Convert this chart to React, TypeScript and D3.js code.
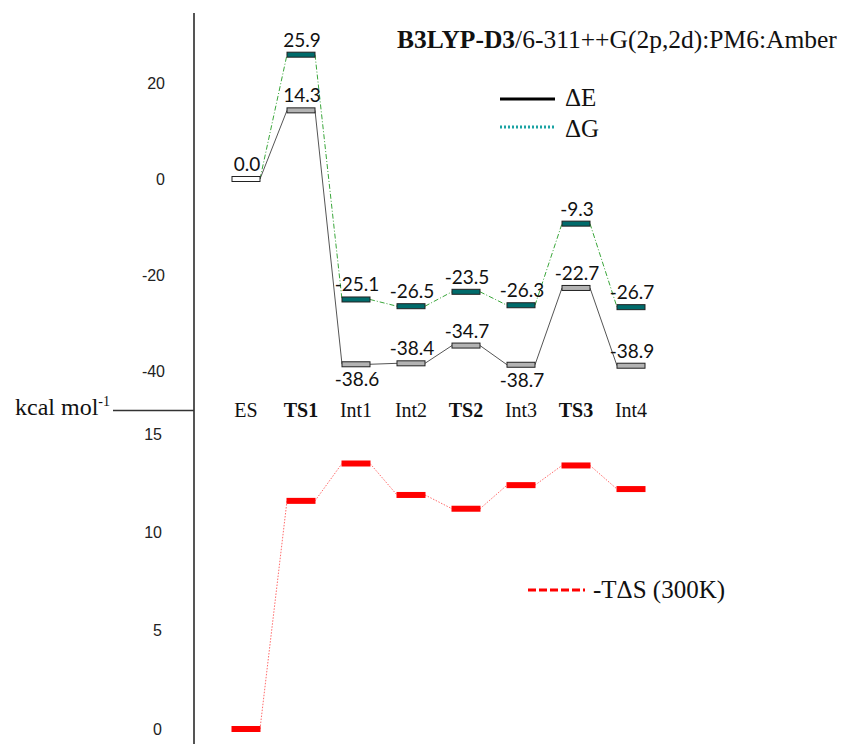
import * as d3 from "d3";

const stages = ["ES", "TS1", "Int1", "Int2", "TS2", "Int3", "TS3", "Int4"];
const boldStages = ["TS1", "TS2", "TS3"];
const deltaE = [0.0, 14.3, -38.6, -38.4, -34.7, -38.7, -22.7, -38.9];
const deltaG = [0.0, 25.9, -25.1, -26.5, -23.5, -26.3, -9.3, -26.7];
const minusTdS = [0.0, 11.6, 13.5, 11.9, 11.2, 12.4, 13.4, 12.2];
const eLabelBelow = ["Int1", "Int3"];
const topTicks = [20, 0, -20, -40];
const bottomTicks = [15, 10, 5, 0];

const W = 848;
const H = 744;
const axisX = 194;
const barW = 28;
const serif = "'Liberation Serif', 'Times New Roman', serif";
const sans = "Lato, 'Noto Sans', sans-serif";

const x = d3.scalePoint<string>().domain(stages).range([246, 631]);
const yTop = d3.scaleLinear().domain([-40, 20]).range([371, 83]);
const yBot = d3.scaleLinear().domain([0, 15]).range([729, 434]);

// connector from the right end of one level to the left end of the next
const connector = (vals: number[], y: d3.ScaleLinear<number, number>) => {
  const pts: [number, number][] = [];
  vals.forEach((v, i) => {
    const cx = x(stages[i])!;
    pts.push([cx - barW / 2, y(v)]);
    pts.push([cx + barW / 2, y(v)]);
  });
  const segs: string[] = [];
  for (let i = 1; i < pts.length - 1; i += 2) {
    segs.push(d3.line()([pts[i], pts[i + 1]])!);
  }
  return segs.join("");
};

const App = () => {
  return (
    <svg width={W} height={H} style={{ display: "block", position: "absolute", left: 0, top: 0 }}>
      <rect width={W} height={H} fill="#fff" />

      {/* axis */}
      <line x1={axisX} x2={axisX} y1={13} y2={H} stroke="#555" strokeWidth={2} />
      <line x1={113} x2={axisX} y1={410.5} y2={410.5} stroke="#333" strokeWidth={1.3} />
      <text x={15} y={415} fontFamily={serif} fontSize={24} fill="#111">
        kcal mol
        <tspan dy={-9} fontSize={14}>-1</tspan>
      </text>

      {topTicks.map((t) => (
        <text key={"t" + t} x={165} y={yTop(t)} dy="0.36em" textAnchor="end"
          fontFamily="'Liberation Sans', Arial, sans-serif" fontSize={16} fill="#222">
          {t}
        </text>
      ))}
      {bottomTicks.map((t) => (
        <text key={"b" + t} x={162} y={yBot(t)} dy="0.36em" textAnchor="end"
          fontFamily="'Liberation Sans', Arial, sans-serif" fontSize={16} fill="#222">
          {t}
        </text>
      ))}

      {/* title */}
      <text x={397} y={48} fontFamily={serif} fontSize={25.5} fill="#111">
        <tspan fontWeight="bold">B3LYP-D3</tspan>/6-311++G(2p,2d):PM6:Amber
      </text>

      {/* legend top */}
      <line x1={500} x2={555} y1={99} y2={99} stroke="#000" strokeWidth={3} />
      <text x={565} y={106} fontFamily={serif} fontSize={25} fill="#111">ΔE</text>
      <line x1={500} x2={555} y1={127} y2={127} stroke="#1aa3a3" strokeWidth={3} strokeDasharray="2,2" />
      <text x={565} y={137} fontFamily={serif} fontSize={25} fill="#111">ΔG</text>

      {/* connectors */}
      <path d={connector(deltaG, yTop)} fill="none" stroke="#3aa63a" strokeWidth={1} strokeDasharray="5,2,1,2" />
      <path d={connector(deltaE, yTop)} fill="none" stroke="#555" strokeWidth={1} />
      <path d={connector(minusTdS, yBot)} fill="none" stroke="#ff6b6b" strokeWidth={1} strokeDasharray="1.5,1.5" />

      {/* ΔG levels */}
      {deltaG.map((v, i) =>
        i === 0 ? null : (
          <rect key={"g" + i} x={x(stages[i])! - barW / 2} y={yTop(v) - 2.5} width={barW} height={5}
            fill="#006b6b" stroke="#222" strokeWidth={1} />
        )
      )}
      {/* ΔE levels */}
      {deltaE.map((v, i) => (
        <rect key={"e" + i} x={x(stages[i])! - barW / 2} y={yTop(v) - 2.5} width={barW} height={5}
          fill={i === 0 ? "#fff" : "#b3b3b3"} stroke="#222" strokeWidth={1} />
      ))}
      {/* -TΔS levels */}
      {minusTdS.map((v, i) => (
        <rect key={"s" + i} x={x(stages[i])! - barW / 2 - 0.5} y={yBot(v) - 3} width={barW + 1} height={6}
          fill="#ff0000" />
      ))}

      {/* value labels */}
      {deltaG.map((v, i) =>
        i === 0 ? null : (
          <text key={"gl" + i} x={x(stages[i])! + 1} y={yTop(v) - 8} textAnchor="middle"
            fontFamily={sans} fontSize={19} fill="#111">
            {v.toFixed(1)}
          </text>
        )
      )}
      {deltaE.map((v, i) => {
        const below = eLabelBelow.includes(stages[i]);
        return (
          <text key={"el" + i} x={x(stages[i])! + 1} y={below ? yTop(v) + 22 : yTop(v) - 8} textAnchor="middle"
            fontFamily={sans} fontSize={19} fill="#111">
            {v.toFixed(1)}
          </text>
        );
      })}

      {/* stage labels */}
      {stages.map((s) => (
        <text key={s} x={x(s)!} y={417} textAnchor="middle" fontFamily={serif} fontSize={20}
          fontWeight={boldStages.includes(s) ? "bold" : "normal"} fill="#111">
          {s}
        </text>
      ))}

      {/* legend bottom */}
      <line x1={528} x2={585} y1={590} y2={590} stroke="#ff0000" strokeWidth={3} strokeDasharray="8,3" />
      <text x={593} y={598} fontFamily={serif} fontSize={25} fill="#111">-TΔS (300K)</text>
    </svg>
  );
};

export default App;
